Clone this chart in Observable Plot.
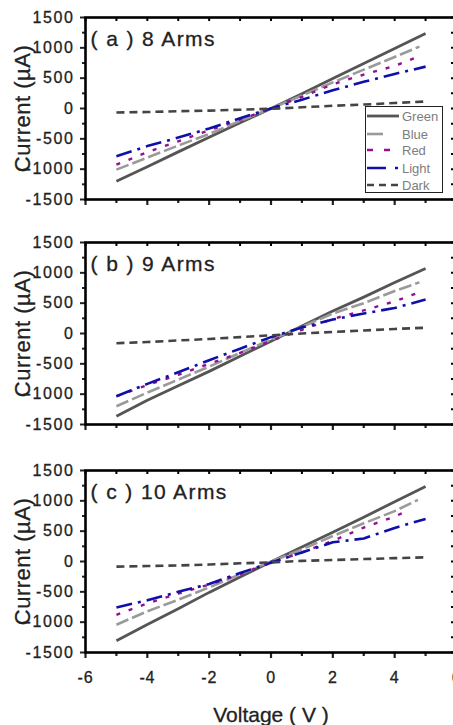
<!DOCTYPE html>
<html>
<head>
<meta charset="utf-8">
<script src="https://cdn.jsdelivr.net/npm/d3@7"></script>
<script src="https://cdn.jsdelivr.net/npm/@observablehq/plot@0.6"></script>
<style>
  html, body { margin: 0; padding: 0; background: #fff; overflow: hidden; width: 453px; height: 725px; }
  #wrap { position: relative; width: 453px; overflow: hidden; }
  #wrap > svg { display: block; max-width: none !important; width: 460px; }
  #wrap > svg text { stroke: #222; stroke-width: 0.3px; }
  #wrap > svg g[aria-label="y-axis tick label"] text { letter-spacing: 1.6px; }
  #wrap > svg g[aria-label="x-axis tick label"] text { letter-spacing: 0.8px; }
  #legend { position: absolute; left: 365px; top: 106px; width: 78px; height: 87px;
            border: 1.5px solid #222; background: #fff; box-sizing: border-box; }
  #legend svg { overflow: visible; display: block; }
</style>
</head>
<body>
<div id="wrap"></div>
<script>
// ---------- data ----------
const seriesNames = ["Green", "Blue", "Red", "Light", "Dark"];
const voltage = [-5, -4, -3, -2, -1, 0, 1, 2, 3, 4, 5];   // last point replaced by end voltage per series

// panel (a) 8 Arms
const a_end   = [5, 4.8, 4.7, 5, 5];
const a_green = [-1199, -960, -715, -475, -235, 0, 245, 495, 740, 990, 1237];
const a_blue  = [-1007, -810, -610, -420, -205, 0, 215, 430, 640, 850, 1020];
const a_red   = [-925, -720, -540, -360, -185, 0, 190, 400, 560, 700, 843];
const a_light = [-788, -620, -480, -330, -160, 0, 145, 300, 440, 570, 690];
const a_dark  = [-66, -58, -45, -35, -20, -5, 20, 45, 65, 90, 115];

// panel (b) 9 Arms
const b_end   = [5, 4.8, 4.7, 5, 5];
const b_green = [-1363, -1100, -860, -624, -375, -126, 125, 372, 600, 840, 1073];
const b_blue  = [-1199, -975, -760, -545, -320, -100, 110, 330, 500, 700, 843];
const b_red   = [-1034, -850, -680, -500, -320, -120, 60, 240, 380, 530, 660];
const b_light = [-1034, -830, -640, -440, -250, -60, 100, 230, 330, 420, 560];
const b_dark  = [-160, -140, -115, -90, -60, -30, 0, 25, 50, 75, 95];

// panel (c) 10 Arms
const c_end   = [5, 4.75, 4.3, 5, 5];
const c_green = [-1307, -1040, -780, -509, -255, -5, 240, 481, 730, 985, 1236];
const c_blue  = [-1043, -820, -630, -426, -210, 0, 200, 420, 630, 830, 1015];
const c_red   = [-878, -690, -530, -380, -210, -20, 150, 340, 560, 740, 812];
const c_light = [-757, -640, -500, -371, -190, -20, 150, 316, 380, 553, 702];
const c_dark  = [-85, -75, -65, -50, -30, -15, 10, 25, 40, 55, 69];

const panelLabels = ["( a ) 8 Arms", "( b ) 9 Arms", "( c ) 10 Arms"];
const xTicksMajor = [-6, -4, -2, 0, 2, 4, 6];
const xTicksMinor = [-5, -3, -1, 1, 3, 5];
const yTicksMajor = [-1500, -1000, -500, 0, 500, 1000, 1500];
const yTicksMinor = [-1250, -750, -250, 250, 750, 1250];
const xLabel = "Voltage ( V )";
const yLabel = "Current (\u00b5A)";

// ---------- styles ----------
const styles = {
  Green: {stroke: "#555555", strokeWidth: 2.8, dash: null},
  Blue:  {stroke: "#9a9a9a", strokeWidth: 2.6, dash: "13,4"},
  Red:   {stroke: "#93108f", strokeWidth: 2.4, dash: "4,9"},
  Light: {stroke: "#1010a8", strokeWidth: 2.6, dash: "16,6,3,6"},
  Dark:  {stroke: "#444444", strokeWidth: 2.6, dash: "8,5"}
};

function buildRows(end, arrays) {
  const rows = [];
  arrays.forEach((vals, si) => {
    vals.forEach((v, i) => {
      const x = i === vals.length - 1 ? end[si] : voltage[i];
      rows.push({series: seriesNames[si], V: x, I: v});
    });
  });
  return rows;
}

const panels = [
  buildRows(a_end, [a_green, a_blue, a_red, a_light, a_dark]),
  buildRows(b_end, [b_green, b_blue, b_red, b_light, b_dark]),
  buildRows(c_end, [c_green, c_blue, c_red, c_light, c_dark])
];

const fmt = d => String(d);
const wrap = document.getElementById("wrap");

panels.forEach((rows, p) => {
  const last = p === 2;
  const height = last ? 275 : 225;
  const marginTop = last ? 20 : 17;
  const marginBottom = last ? 73 : 26;
  const plotH = height - marginTop - marginBottom;
  const width = 460, marginLeft = 85, marginRight = 4;
  const plotW = width - marginLeft - marginRight;

  const lineMarks = seriesNames.map(s => Plot.line(rows.filter(r => r.series === s), {
    x: "V", y: "I",
    stroke: styles[s].stroke, strokeWidth: styles[s].strokeWidth,
    strokeDasharray: styles[s].dash, strokeLinecap: "butt"
  }));

  const marks = [
    ...lineMarks,
    // inward ticks at top and right
    Plot.tickX([...xTicksMajor, ...xTicksMinor], {x: d => d, insetBottom: plotH - 4, stroke: "#000", strokeWidth: 2}),
    Plot.tickY([...yTicksMajor, ...yTicksMinor], {y: d => d, insetLeft: plotW - 5, stroke: "#000", strokeWidth: 2}),
    // outward ticks at bottom
    Plot.axisX({ticks: xTicksMajor, tickSize: 6, tickPadding: 13, strokeWidth: 2.2,
      tickFormat: last ? fmt : () => "", label: null, fontSize: 16}),
    Plot.axisX({ticks: xTicksMinor, tickSize: 4, strokeWidth: 2.2, tickFormat: () => "", label: null}),
    // left axis
    Plot.axisY({ticks: yTicksMajor, tickSize: 5, tickPadding: 6, strokeWidth: 2,
      tickFormat: fmt, label: null, fontSize: 16}),
    Plot.axisY({ticks: yTicksMinor, tickSize: 3, strokeWidth: 2, tickFormat: () => "", label: null}),
    Plot.frame({stroke: "#000", strokeWidth: 2.6}),
    Plot.text([panelLabels[p]], {frameAnchor: "top-left", dx: 5, dy: 14, fontSize: 21,
      lineAnchor: "top", textAnchor: "start", fill: "#222"}),
    Plot.text([yLabel], {frameAnchor: "left", dx: -63, rotate: -90, fontSize: 22,
      lineAnchor: "middle", textAnchor: "middle", fill: "#222"})
  ];
  if (last) {
    marks.push(Plot.text([xLabel], {frameAnchor: "bottom", dy: 69, fontSize: 21,
      lineAnchor: "bottom", fill: "#222"}));
  }

  const chart = Plot.plot({
    width, height, marginLeft, marginRight, marginTop, marginBottom,
    x: {domain: [-6, 6]},
    y: {domain: [-1500, 1500]},
    style: {fontFamily: "'Liberation Sans', Arial, sans-serif", fontSize: "16px", color: "#222", background: "#fff", overflow: "visible"},
    marks
  });
  // wider letter spacing for the panel titles, as in the reference
  d3.select(chart).selectAll("text")
    .filter(function() { return panelLabels.includes(this.textContent); })
    .style("letter-spacing", "1.4px");
  d3.select(chart).selectAll("text")
    .filter(function() { return this.textContent === yLabel; })
    .style("letter-spacing", "0.5px");
  wrap.appendChild(chart);
});

// ---------- legend (panel a) ----------
const legendRowsY = [9, 27, 43, 61, 78];
const ns = "http://www.w3.org/2000/svg";
const legend = document.createElement("div");
legend.id = "legend";
const lsvg = document.createElementNS(ns, "svg");
lsvg.setAttribute("width", 75);
lsvg.setAttribute("height", 84);
seriesNames.forEach((s, i) => {
  const st = styles[s];
  const ln = document.createElementNS(ns, "line");
  ln.setAttribute("x1", 1);
  ln.setAttribute("x2", s === "Blue" ? 17 : 33);
  ln.setAttribute("y1", legendRowsY[i]);
  ln.setAttribute("y2", legendRowsY[i]);
  ln.setAttribute("stroke", st.stroke);
  ln.setAttribute("stroke-width", st.strokeWidth);
  if (st.dash && s !== "Blue") ln.setAttribute("stroke-dasharray", s === "Red" ? "6,11" : s === "Light" ? "19,9,3,9" : "7,5");
  lsvg.appendChild(ln);
  const tx = document.createElementNS(ns, "text");
  tx.setAttribute("x", 36);
  tx.setAttribute("y", legendRowsY[i]);
  tx.setAttribute("dy", "0.35em");
  tx.setAttribute("font-family", "'Liberation Sans', Arial, sans-serif");
  tx.setAttribute("font-size", 13);
  tx.setAttribute("fill", "#7d7d7d");
  tx.textContent = s;
  lsvg.appendChild(tx);
});
legend.appendChild(lsvg);
wrap.appendChild(legend);
</script>
</body>
</html>
